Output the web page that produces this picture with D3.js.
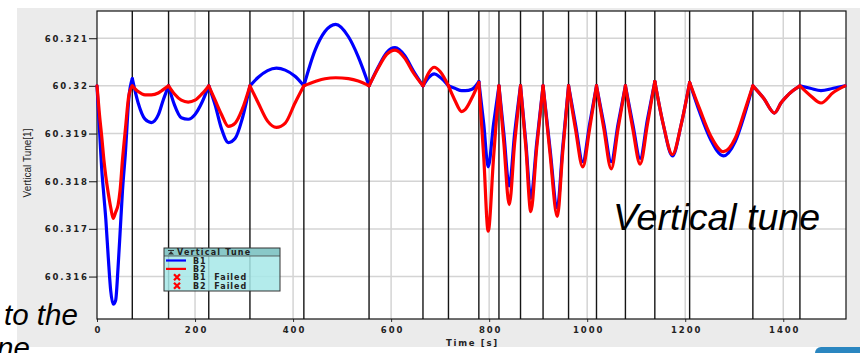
<!DOCTYPE html>
<html>
<head>
<meta charset="utf-8">
<script src="https://cdn.jsdelivr.net/npm/d3@7"></script>
<style>
  body { margin: 0; background: #fff; }
  svg { display: block; }
</style>
</head>
<body>
<svg id="chart" width="860" height="353"></svg>
<script>
// Injection / event times [s] marked by the vertical lines
const markerTimes = [72, 146, 228, 312, 422, 555, 665, 717, 779, 820, 864, 910, 962, 1019, 1078, 1138, 1209, 1338, 1434];

// Sample times [s]
const timeS = [
  0, 5, 10, 14, 18, 23, 28, 33, 38, 43, 47, 52, 58, 65, 72,
  84, 98, 111, 125, 135, 146,
  158, 172, 186, 200, 214, 228,
  241, 254, 268, 282, 296, 312,
  329, 348, 366, 384, 404, 422,
  445, 465, 487, 513, 533, 555,
  574, 591, 608, 628, 645, 665,
  677, 688, 700, 717,
  730, 744, 751, 765, 779,
  789, 798, 809, 820,
  830, 841, 852, 864,
  875, 885, 897, 910,
  924, 939, 950, 962,
  976, 991, 1005, 1019,
  1034, 1049, 1063, 1078,
  1093, 1108, 1123, 1138,
  1155, 1174, 1192, 1209,
  1230, 1252, 1278, 1302, 1322, 1338,
  1360, 1382, 1396, 1407, 1420, 1434,
  1455, 1477, 1502, 1526
];

// Beam 1 vertical tune
const b1Tune = [
  60.3200, 60.3191, 60.3182, 60.3177, 60.3172, 60.3164, 60.3157, 60.31542, 60.3155, 60.3162, 60.3169, 60.3178, 60.3186, 60.31975, 60.32015,
  60.31964, 60.3193, 60.31923, 60.31939, 60.3197, 60.3200,
  60.3196, 60.31933, 60.3193, 60.3194, 60.31965, 60.3200,
  60.3196, 60.3191, 60.31881, 60.3189, 60.3193, 60.3200,
  60.32018, 60.32032, 60.32037, 60.32033, 60.3202, 60.3200,
  60.32075, 60.32114, 60.32129, 60.32103, 60.32061, 60.3200,
  60.3204, 60.3207, 60.3208, 60.32063, 60.32032, 60.3200,
  60.32018, 60.32025, 60.32018, 60.3200,
  60.31995, 60.3199, 60.3199, 60.31993, 60.32009,
  60.3192, 60.3183, 60.3192, 60.3200,
  60.3190, 60.3179, 60.3190, 60.3200,
  60.3188, 60.31764, 60.3188, 60.3200,
  60.3187, 60.31744, 60.3187, 60.3200,
  60.3192, 60.31841, 60.3192, 60.3200,
  60.3192, 60.31841, 60.3192, 60.3200,
  60.3192, 60.31848, 60.3193, 60.32009,
  60.3192, 60.31853, 60.3192, 60.32007,
  60.31943, 60.31887, 60.31853, 60.31883, 60.31943, 60.3200,
  60.31974, 60.31943, 60.31965, 60.31978, 60.3199, 60.3200,
  60.31995, 60.3199, 60.31995, 60.3200
];

// Beam 2 vertical tune
const b2Tune = [
  60.3200, 60.3194, 60.3189, 60.31845, 60.3181, 60.31775, 60.31745, 60.31722, 60.31735, 60.3175, 60.3178, 60.31845, 60.3191, 60.3198, 60.3200,
  60.31988, 60.31981, 60.31981, 60.31985, 60.31992, 60.3200,
  60.31983, 60.3197, 60.31966, 60.3197, 60.31983, 60.3200,
  60.3197, 60.3194, 60.31915, 60.31922, 60.3195, 60.3200,
  60.31964, 60.31926, 60.31913, 60.31922, 60.31964, 60.3200,
  60.32009, 60.32015, 60.32017, 60.32015, 60.3201, 60.3200,
  60.32038, 60.32066, 60.32075, 60.32058, 60.32028, 60.3200,
  60.32028, 60.32039, 60.3203, 60.3200,
  60.3197, 60.31946, 60.3195, 60.31975, 60.32007,
  60.3185, 60.31695, 60.3185, 60.3200,
  60.3188, 60.31751, 60.3188, 60.3200,
  60.3187, 60.31736, 60.3187, 60.3200,
  60.3186, 60.31726, 60.3186, 60.3200,
  60.3191, 60.3183, 60.3191, 60.3200,
  60.3191, 60.31826, 60.3191, 60.3200,
  60.3191, 60.31836, 60.3192, 60.32009,
  60.3192, 60.31856, 60.3192, 60.32007,
  60.3195, 60.31895, 60.31862, 60.3189, 60.3195, 60.3200,
  60.31974, 60.31943, 60.31965, 60.31978, 60.3199, 60.3200,
  60.3198, 60.31964, 60.31986, 60.3200
];

// Axis ticks
const xTicks = [0, 200, 400, 600, 800, 1000, 1200, 1400];
const yTicks = [60.316, 60.317, 60.318, 60.319, 60.32, 60.321];
const yTickLabels = ["60.316", "60.317", "60.318", "60.319", "60.32", "60.321"];

// Legend entries
const legendNames = ["B1", "B2", "B1  Failed", "B2  Failed"];
const legendKinds = ["line", "line", "cross", "cross"];
const legendColors = ["#0000ff", "#ff0000", "#ff0000", "#ff0000"];

const svg = d3.select("#chart");
const W = 860, H = 353;
const plot = { left: 97, right: 846, top: 11, bottom: 319 };

const x = d3.scaleLinear().domain([0, 1528]).range([plot.left, plot.right]);
const y = d3.scaleLinear().domain([60.31511, 60.32157]).range([plot.bottom, plot.top]);

const tickFont = "'DejaVu Sans', sans-serif";

// page + panel background
svg.append("rect").attr("width", W).attr("height", H).attr("fill", "#ffffff");
svg.append("rect").attr("x", 17).attr("y", 8).attr("width", W - 17).attr("height", 339).attr("fill", "#ebebeb");
svg.append("rect").attr("x", 815).attr("y", 347).attr("width", 60).attr("height", 20).attr("rx", 6).attr("fill", "#2a86c0");

// plot area
svg.append("rect")
  .attr("x", plot.left).attr("y", plot.top)
  .attr("width", plot.right - plot.left).attr("height", plot.bottom - plot.top)
  .attr("fill", "#ffffff");

// grid
const grid = svg.append("g");
grid.selectAll("line.gx").data(xTicks.filter(d => d > 0)).join("line")
  .attr("x1", d => x(d)).attr("x2", d => x(d))
  .attr("y1", plot.top).attr("y2", plot.bottom)
  .attr("stroke", "#d4d4d4").attr("stroke-width", 1.5);
grid.selectAll("line.gy").data(yTicks).join("line")
  .attr("x1", plot.left).attr("x2", plot.right)
  .attr("y1", d => y(d)).attr("y2", d => y(d))
  .attr("stroke", "#d4d4d4").attr("stroke-width", 1.5);

// event markers
svg.append("g").selectAll("line").data(markerTimes).join("line")
  .attr("x1", d => x(d)).attr("x2", d => x(d))
  .attr("y1", plot.top).attr("y2", plot.bottom)
  .attr("stroke", "#151515").attr("stroke-width", 1.4);

// axes
const yAxis = svg.append("g")
  .attr("transform", `translate(${plot.left},0)`)
  .call(d3.axisLeft(y).tickValues(yTicks).tickFormat((d, i) => yTickLabels[i]).tickSize(8).tickPadding(2));
yAxis.select(".domain").remove();
yAxis.selectAll(".tick line").attr("stroke", "#333").attr("stroke-width", 1.2);
yAxis.selectAll(".tick text")
  .attr("font-family", tickFont).attr("font-weight", "bold").attr("font-size", 8.5)
  .attr("letter-spacing", 1.9).attr("fill", "#222").attr("dx", 1.9).attr("dy", "0.36em");

const xAxis = svg.append("g")
  .attr("transform", `translate(0,${plot.bottom})`)
  .call(d3.axisBottom(x).tickValues(xTicks).tickFormat(d3.format("d")).tickSize(3).tickPadding(5));
xAxis.select(".domain").remove();
xAxis.selectAll(".tick line").attr("stroke", "#333");
xAxis.selectAll(".tick text")
  .attr("font-family", tickFont).attr("font-weight", "bold").attr("font-size", 8.5)
  .attr("letter-spacing", 1.9).attr("fill", "#222").attr("dx", 0.95);

// frame
svg.append("rect")
  .attr("x", plot.left).attr("y", plot.top)
  .attr("width", plot.right - plot.left).attr("height", plot.bottom - plot.top)
  .attr("fill", "none").attr("stroke", "#111").attr("stroke-width", 1.2);

// axis titles
svg.append("text")
  .attr("x", (plot.left + plot.right) / 2 + 0.9).attr("y", 346)
  .attr("text-anchor", "middle")
  .attr("font-family", tickFont).attr("font-weight", "bold").attr("font-size", 8.5)
  .attr("letter-spacing", 1.7).attr("fill", "#222")
  .text("Time [s]");
svg.append("text")
  .attr("transform", "translate(31,163) rotate(-90)")
  .attr("text-anchor", "middle")
  .attr("font-family", "'Liberation Sans Narrow', 'Liberation Sans', Arial, sans-serif")
  .attr("font-size", 10).attr("fill", "#222")
  .text("Vertical Tune[1]");

// tune curves, smoothed within each interval between markers
const bounds = [0, ...markerTimes, timeS[timeS.length - 1]];
const line = d3.line().x(d => x(d[0])).y(d => y(d[1])).curve(d3.curveMonotoneX);

function segments(values) {
  const out = [];
  for (let k = 0; k < bounds.length - 1; k++) {
    const a = bounds[k], b = bounds[k + 1];
    const pts = [];
    timeS.forEach((t, i) => { if (t >= a && t <= b) pts.push([t, values[i]]); });
    out.push(pts);
  }
  return out;
}

const curves = svg.append("g").attr("fill", "none")
  .attr("stroke-linejoin", "round").attr("stroke-linecap", "round");
curves.selectAll("path.b1").data(segments(b1Tune)).join("path")
  .attr("class", "b1").attr("d", line)
  .attr("stroke", "#0000ff").attr("stroke-width", 3.2);
curves.selectAll("path.b2").data(segments(b2Tune)).join("path")
  .attr("class", "b2").attr("d", line)
  .attr("stroke", "#ff0000").attr("stroke-width", 3.2);

// legend
const lg = svg.append("g").attr("transform", "translate(164,248)");
const lgW = 116, lgH = 43;
lg.append("rect").attr("width", lgW).attr("height", lgH)
  .attr("fill", "#a6e8e8").attr("fill-opacity", 0.86);
lg.append("rect").attr("width", lgW).attr("height", 8)
  .attr("fill", "#86c4c4").attr("fill-opacity", 0.92);
lg.append("line").attr("x1", 0).attr("x2", lgW).attr("y1", 8).attr("y2", 8)
  .attr("stroke", "#444").attr("stroke-width", 0.8);
lg.append("rect").attr("width", lgW).attr("height", lgH)
  .attr("fill", "none").attr("stroke", "#333").attr("stroke-width", 1);
// small title icon
lg.append("path").attr("d", "M4,6.5 L7,3 L10,6.5 Z").attr("fill", "#333");
lg.append("path").attr("d", "M4,2.5 L10,2.5").attr("stroke", "#333").attr("stroke-width", 1);
lg.append("text").attr("x", 13).attr("y", 7.2)
  .attr("font-family", tickFont).attr("font-weight", "bold").attr("font-size", 8)
  .attr("letter-spacing", 1.2).attr("fill", "#222")
  .text("Vertical Tune");

const rows = lg.selectAll("g.row").data(legendNames).join("g")
  .attr("class", "row")
  .attr("transform", (d, i) => `translate(0,${12.5 + i * 8.4})`);
rows.each(function (d, i) {
  const g = d3.select(this);
  if (legendKinds[i] === "line") {
    g.append("line").attr("x1", 2).attr("x2", 22).attr("y1", 0).attr("y2", 0)
      .attr("stroke", legendColors[i]).attr("stroke-width", 2.2);
  } else {
    g.append("path").attr("d", "M10,-3 L16,3 M16,-3 L10,3")
      .attr("stroke", legendColors[i]).attr("stroke-width", 2.3);
  }
  g.append("text").attr("x", 29).attr("y", 3)
    .attr("font-family", tickFont).attr("font-weight", "bold").attr("font-size", 8)
    .attr("letter-spacing", 1.0).attr("fill", "#222").attr("xml:space", "preserve")
    .style("white-space", "pre")
    .text(d);
});

// slide annotations
svg.append("text").attr("x", 613).attr("y", 230)
  .attr("font-family", "'Liberation Sans', Arial, sans-serif").attr("font-style", "italic")
  .attr("font-size", 37.5).attr("fill", "#000")
  .text("Vertical tune");
svg.append("text").attr("x", 4).attr("y", 325)
  .attr("font-family", "'Liberation Sans', Arial, sans-serif").attr("font-style", "italic")
  .attr("font-size", 29.5).attr("fill", "#000")
  .text("to the");
svg.append("text").attr("x", -3).attr("y", 358)
  .attr("font-family", "'Liberation Sans', Arial, sans-serif").attr("font-style", "italic")
  .attr("font-size", 29.5).attr("fill", "#000")
  .text("ne");
</script>
</body>
</html>
